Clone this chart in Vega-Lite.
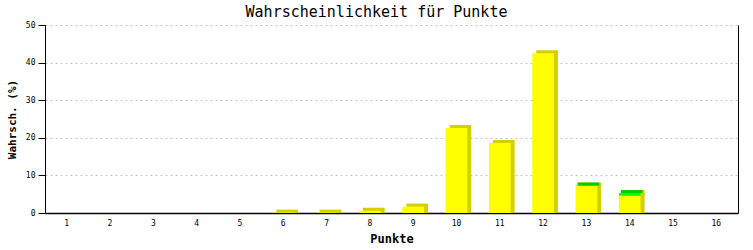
{
  "$schema": "https://vega.github.io/schema/vega-lite/v6.json",
  "width": 693,
  "height": 188,
  "autosize": {"type": "none"},
  "padding": {"left": 45, "top": 25, "right": 15, "bottom": 37},
  "background": "white",
  "title": {"text": "Wahrscheinlichkeit für Punkte", "font": "DejaVu Sans Mono", "fontSize": 15, "fontWeight": "normal", "color": "black", "anchor": "middle", "dx": -15, "offset": 1},
  "config": {
    "view": {"stroke": null},
    "font": "DejaVu Sans Mono"
  },
  "data": {"values": [
    {"Punkte": 1, "Serie": "A", "Wert": 0},
    {"Punkte": 2, "Serie": "A", "Wert": 0},
    {"Punkte": 3, "Serie": "A", "Wert": 0},
    {"Punkte": 4, "Serie": "A", "Wert": 0},
    {"Punkte": 5, "Serie": "A", "Wert": 0},
    {"Punkte": 6, "Serie": "A", "Wert": 0.1},
    {"Punkte": 7, "Serie": "A", "Wert": 0.1},
    {"Punkte": 8, "Serie": "A", "Wert": 0.6},
    {"Punkte": 9, "Serie": "A", "Wert": 1.7},
    {"Punkte": 10, "Serie": "A", "Wert": 22.6},
    {"Punkte": 11, "Serie": "A", "Wert": 18.6},
    {"Punkte": 12, "Serie": "A", "Wert": 42.5},
    {"Punkte": 13, "Serie": "A", "Wert": 7.2},
    {"Punkte": 13, "Serie": "B", "Wert": 0.1},
    {"Punkte": 14, "Serie": "A", "Wert": 4.6},
    {"Punkte": 14, "Serie": "B", "Wert": 0.7},
    {"Punkte": 15, "Serie": "A", "Wert": 0},
    {"Punkte": 16, "Serie": "A", "Wert": 0}
  ]},
  "transform": [
    {"stack": "Wert", "groupby": ["Punkte"], "sort": [{"field": "Serie", "order": "ascending"}], "as": ["y0", "y1"]}
  ],
  "encoding": {
    "x": {
      "field": "Punkte", "type": "ordinal",
      "scale": {"paddingInner": 0.5, "paddingOuter": 0.25},
      "axis": {"title": "Punkte", "labelAngle": 0, "ticks": false, "domainColor": "black", "domainWidth": 1.5, "labelFontSize": 8, "labelColor": "black", "labelPadding": 6, "titleFontSize": 12, "titleFontWeight": "bold", "titleColor": "black", "titlePadding": 6}
    }
  },
  "layer": [
    {
      "transform": [{"filter": "datum.Wert > 0"}],
      "mark": {"type": "bar", "color": "#d2d000", "xOffset": 4, "yOffset": -3, "y2Offset": 0},
      "encoding": {
        "y": {"field": "y1", "type": "quantitative", "scale": {"domain": [0, 50], "nice": false},
          "axis": {"title": "Wahrsch. (%)", "values": [0, 10, 20, 30, 40, 50], "grid": true, "gridColor": "#c4c4c4", "gridDash": [2, 3], "domainColor": "black", "tickColor": "black", "tickSize": 7, "labelFontSize": 8, "labelColor": "black", "labelPadding": 3, "titleFontSize": 11, "titleFontWeight": "bold", "titleColor": "black", "titlePadding": 8}},
        "y2": {"field": "y0"}
      }
    },
    {
      "mark": {"type": "bar"},
      "encoding": {
        "y": {"field": "y1", "type": "quantitative", "axis": {"orient": "right", "labels": false, "ticks": false, "grid": false, "title": null, "domainColor": "black"}},
        "y2": {"field": "y0"},
        "color": {"field": "Serie", "type": "nominal", "scale": {"domain": ["A", "B"], "range": ["#ffff00", "#00ff00"]}, "legend": null}
      }
    },
    {
      "transform": [{"filter": "datum.Serie == 'B'"}],
      "mark": {"type": "bar", "color": "#00cc00", "xOffset": 2, "yOffset": -3, "y2Offset": 0},
      "encoding": {
        "y": {"field": "y1", "type": "quantitative", "axis": null},
        "y2": {"field": "y1"}
      }
    }
  ],
  "resolve": {"axis": {"y": "independent"}}
}
